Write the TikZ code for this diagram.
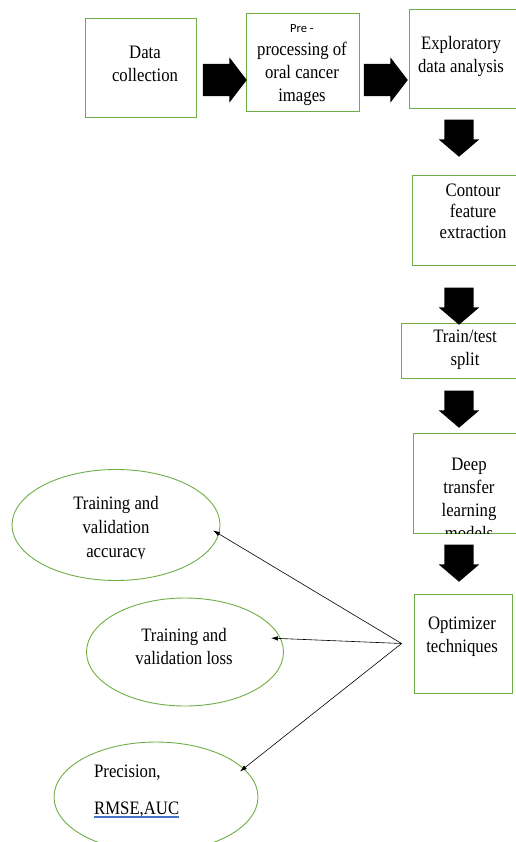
\documentclass[tikz,border=0pt]{standalone}
\usepackage{fontspec}
\setmainfont[FakeStretch=0.88]{Liberation Serif}
\newfontfamily\prefont{Carlito}
\usetikzlibrary{shapes.arrows,shapes.geometric,arrows.meta}
\definecolor{stagegreen}{RGB}{112,173,71}
\definecolor{spellblue}{RGB}{68,114,196}
\newlength\spellwd
\newcommand{\spellline}[1]{\settowidth{\spellwd}{#1}#1\llap{\color{spellblue}\rule[-3.5pt]{\spellwd}{1.3pt}}}
\tikzset{
  stagebox/.style={draw=stagegreen,line width=0.9pt,inner sep=0pt},
  stagetext/.style={inner sep=0pt,align=center,font=\fontsize{19}{23}\selectfont},
  resultoval/.style={draw=stagegreen,line width=0.9pt,ellipse,inner sep=0pt},
  rightblock/.style={single arrow,anchor=tip,fill=black,inner xsep=0pt,inner ysep=16pt,minimum height=44pt,single arrow head extend=6.5pt,single arrow tip angle=105},
  downblock/.style={single arrow,anchor=tip,shape border rotate=270,fill=black,inner xsep=14.5pt,inner ysep=0pt,minimum height=37pt,single arrow head extend=5.5pt,single arrow tip angle=99},
  outlink/.style={line width=0.6pt,-{Latex[length=7pt,width=4.5pt]}}
}
\begin{document}
\begin{tikzpicture}[x=1pt,y=-1pt]
\useasboundingbox (0,0) rectangle (515,842);
\foreach \n/\x/\y/\w/\h in {collect/140.5/67.5/111/99,prep/302.5/62/113/98,explore/469.5/58.5/121/99,contour/471/220/118/90,split/465.5/350.5/129/55,deep/471.5/483/117/100,optim/463/643.5/98/99}{\node[stagebox,minimum width=\w pt,minimum height=\h pt](\n) at (\x,\y){};}
\node[rightblock](righta) at (247,80){};
\node[rightblock](rightb) at (408,80){};
\foreach \n/\y in {a/157,b/325,c/428,d/582}{\node[downblock](down\n) at (459,\y){};}
\node[stagetext](collecttxt) at (145,64){Data\\collection};
\node[stagetext](preptxt) at (302,65){{\prefont\fontsize{12.5}{15}\selectfont Pre -}\\processing of\\oral cancer\\images};
\node[stagetext](exploretxt) at (461,56){Exploratory\\data analysis};
\node[stagetext,font=\fontsize{19}{21}\selectfont](contourtxt) at (473,211){Contour\\feature\\extraction};
\node[stagetext](splittxt) at (465,350){Train/test\\split};
\begin{scope}
\clip (deep.north west) rectangle (deep.south east);
\node[stagetext](deeptxt) at (469,499){Deep\\transfer\\learning\\models};
\end{scope}
\node[stagetext](optimtxt) at (462,637){Optimizer\\techniques};
\node[resultoval,minimum width=208pt,minimum height=111pt](acc) at (116,525){};
\node[resultoval,minimum width=197pt,minimum height=108pt](loss) at (185,652){};
\node[resultoval,minimum width=204pt,minimum height=110pt](prec) at (156,797){};
\begin{scope}
\clip (0,470) rectangle (515,558.5);
\node[stagetext,font=\fontsize{19}{24}\selectfont](acctxt) at (116,529){Training and\\validation\\accuracy};
\end{scope}
\node[stagetext](losstxt) at (184,646){Training and\\validation loss};
\node[stagetext,align=left,anchor=west](prectxt) at (94,791){Precision,\\[14pt]\spellline{RMSE,AUC}};
\coordinate (fan) at ([xshift=-12pt]optim.west);
\draw[outlink,shorten >=-7pt] (fan) -- (acc.-5);
\draw[outlink,shorten >=-10pt] (fan) -- (loss.8);
\draw[outlink,shorten >=-5pt] (fan) -- (prec.18);
\end{tikzpicture}
\end{document}
